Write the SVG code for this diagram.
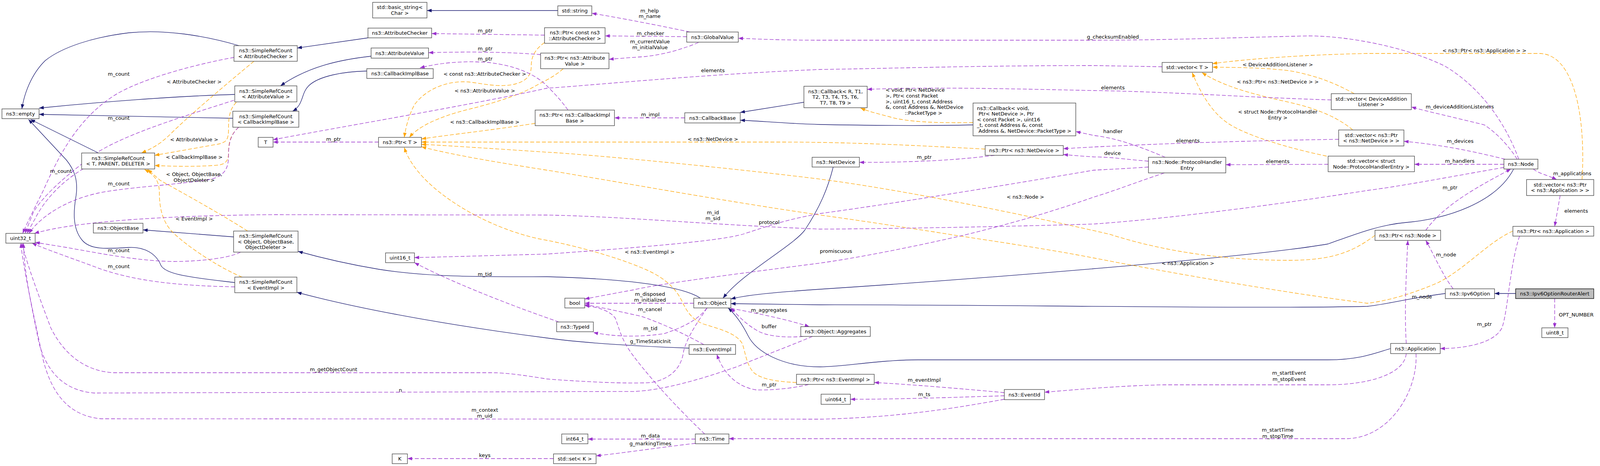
<svg xmlns="http://www.w3.org/2000/svg" width="5116" height="1194" viewBox="0 0 5116 1194">
<defs>
<style>
text{font-family:"DejaVu Sans","Liberation Sans",sans-serif;font-size:13px;fill:#000}
.c{text-anchor:middle}
.box{fill:#fff;stroke:#404040;stroke-width:1.3}
.main{fill:#bfbfbf;stroke:#000;stroke-width:1.3}
.inh{fill:none;stroke:#191970;stroke-width:1.3;marker-end:url(#an)}
.mem{fill:none;stroke:#9a32cd;stroke-width:1.3;stroke-dasharray:10,5;marker-end:url(#ap)}
.tpl{fill:none;stroke:#ffa500;stroke-width:1.3;stroke-dasharray:10,5;marker-end:url(#ao)}
</style>
<marker id="an" viewBox="0 0 12 9" refX="12" refY="4.5" markerWidth="12" markerHeight="9" markerUnits="userSpaceOnUse" orient="auto"><path d="M0,0L12,4.5L0,9z" fill="#191970" stroke="none"/></marker>
<marker id="ap" viewBox="0 0 12 9" refX="12" refY="4.5" markerWidth="12" markerHeight="9" markerUnits="userSpaceOnUse" orient="auto"><path d="M0,0L12,4.5L0,9z" fill="#9a32cd" stroke="none"/></marker>
<marker id="ao" viewBox="0 0 12 9" refX="12" refY="4.5" markerWidth="12" markerHeight="9" markerUnits="userSpaceOnUse" orient="auto"><path d="M0,0L12,4.5L0,9z" fill="#ffa500" stroke="none"/></marker>
</defs>
<rect width="5116" height="1194" fill="#fff"/>
<g id="edges">
<!-- inheritance -->
<path class="inh" d="M612,117 C520,90 420,75 330,84 C240,95 160,120 116,155 C80,190 62,240 56,279"/>
<path class="inh" d="M601,242 C450,246 250,262 100,277"/>
<path class="inh" d="M596,303 C430,300 250,296 100,293"/>
<path class="inh" d="M252,392 L78,306"/>
<path class="inh" d="M601,724 C500,712 425,705 412,680 C400,650 370,632 330,634 C270,638 230,640 210,615 C185,585 188,540 195,500 C200,460 190,435 170,410 L73,306"/>
<path class="inh" d="M598,607 L366,589"/>
<path class="inh" d="M942,97 L761,123"/>
<path class="inh" d="M950,144 C870,153 790,170 718,220"/>
<path class="inh" d="M939,182 C880,183 815,195 790,220 C770,240 778,268 749,285"/>
<path class="inh" d="M1428,27 L1093,27"/>
<path class="inh" d="M1793,764 C1750,735 1620,715 1400,709 C1250,709 1100,711 970,690 C880,675 820,660 763,644"/>
<path class="inh" d="M1764,892 C1600,886 1480,877 1400,866 C1200,840 950,800 760,749"/>
<path class="inh" d="M2133,428 C2120,480 2100,530 2060,590 C2030,630 1900,700 1851,764"/>
<path class="inh" d="M3875,433 C3830,520 3700,562 3600,570 C3530,576 3470,600 3400,625 C3200,660 2500,715 2100,741 C2000,748 1920,754 1871,766"/>
<path class="inh" d="M3700,752 C3600,765 3550,780 3500,785 C3200,792 2500,780 2100,781 L1871,778"/>
<path class="inh" d="M3560,893 C3520,905 3480,922 3400,922 L2350,922 C2250,922 2160,940 2100,940 C2000,940 1935,900 1915,860 C1900,830 1885,808 1864,789"/>
<path class="inh" d="M2058,262 L1895,288"/>
<path class="inh" d="M2491,320 C2400,322 2250,322 2100,319 C2000,316 1950,310 1895,308"/>
<path class="inh" d="M3880,752 L3826,752"/>
<!-- templates -->
<path class="tpl" d="M650,157 C580,215 480,300 440,340 C410,370 390,380 362,392"/>
<path class="tpl" d="M605,262 C588,280 585,300 585,330 C585,358 580,364 560,369 L396,398"/>
<path class="tpl" d="M611,326 C590,345 585,365 585,390 C585,412 578,420 560,423 C500,428 440,426 396,424"/>
<path class="tpl" d="M634,592 C560,545 460,490 410,462 L378,434"/>
<path class="tpl" d="M620,710 C570,690 490,640 445,598 C415,570 408,530 408,495 C408,465 398,450 370,434"/>
<path class="tpl" d="M1394,109 C1365,130 1360,150 1360,170 C1360,195 1345,208 1320,215 C1280,225 1240,215 1200,210 C1130,205 1080,240 1060,270 C1045,300 1038,330 1035,352"/>
<path class="tpl" d="M1442,176 C1420,195 1400,205 1380,215 C1330,245 1260,265 1200,280 C1120,300 1070,325 1048,352"/>
<path class="tpl" d="M1370,316 C1250,335 1150,345 1079,356"/>
<path class="tpl" d="M2522,382 C2300,370 2150,364 2000,364 L1079,364"/>
<path class="tpl" d="M3520,603 C3470,640 3420,667 3300,667 C3100,667 2950,635 2840,600 C2600,545 2300,485 2100,459 C1850,428 1500,395 1400,390 C1250,380 1130,372 1079,370"/>
<path class="tpl" d="M3873,592 C3810,620 3750,690 3680,725 C3620,750 3560,770 3500,777 C3250,745 2950,690 2800,661 C2650,632 2500,612 2390,594 C2280,577 2200,565 2100,551 C1850,515 1550,460 1400,436 C1260,414 1150,395 1079,376"/>
<path class="tpl" d="M2039,980 C1990,978 1950,972 1930,955 C1910,935 1908,900 1900,880 C1885,855 1850,845 1800,830 C1765,815 1755,790 1745,770 C1725,730 1690,705 1640,685 C1580,660 1480,630 1380,612 C1280,590 1180,540 1110,480 C1070,445 1045,410 1035,378"/>
<path class="tpl" d="M2491,314 C2400,316 2320,312 2280,300 C2250,292 2225,286 2203,277"/>
<path class="tpl" d="M3467,240 C3430,220 3380,195 3300,181 C3220,172 3150,173 3104,172"/>
<path class="tpl" d="M3463,333 C3430,305 3380,280 3300,262 C3200,240 3130,220 3077,186"/>
<path class="tpl" d="M3396,400 C3300,380 3200,350 3150,320 C3100,290 3070,230 3052,186"/>
<path class="tpl" d="M4050,460 C4060,300 4030,137 3940,137 L3500,137 C3350,140 3200,150 3104,163"/>
<!-- members -->
<path class="mem" d="M599,147 C500,165 370,200 300,240 C200,300 150,400 110,490 C85,540 70,570 58,598"/>
<path class="mem" d="M599,257 C480,295 330,340 250,390 C180,440 110,500 85,545 L64,598"/>
<path class="mem" d="M214,432 C150,470 110,520 90,560 L69,598"/>
<path class="mem" d="M611,326 C590,345 585,368 585,400 C585,435 572,452 536,460 C440,475 320,480 250,495 C160,515 100,560 74,598"/>
<path class="mem" d="M616,646 C590,660 520,670 440,670 C350,668 260,650 170,634 L90,621"/>
<path class="mem" d="M601,735 C450,732 350,720 260,690 C180,660 120,640 82,623"/>
<path class="mem" d="M1394,90 L1105,86"/>
<path class="mem" d="M1384,140 C1300,133 1200,132 1097,135"/>
<path class="mem" d="M1454,282 C1435,255 1415,235 1400,220 C1370,190 1320,168 1250,160 C1180,155 1120,162 1075,174"/>
<path class="mem" d="M969,364 L699,364"/>
<path class="mem" d="M2975,171 L2800,168 C2500,168 2300,175 2100,178 C1800,190 1500,220 1400,226 C1200,270 900,320 699,358"/>
<path class="mem" d="M1766,82 C1700,68 1600,48 1515,34"/>
<path class="mem" d="M1758,94 L1549,92"/>
<path class="mem" d="M1788,109 C1750,125 1700,140 1650,145 C1610,148 1580,150 1559,152"/>
<path class="mem" d="M3888,408 C3860,330 3800,230 3700,170 C3600,120 3450,92 3350,92 C3200,95 3000,103 2800,103 L2100,103 C2000,103 1940,100 1890,98"/>
<path class="mem" d="M1753,302 L1573,302"/>
<path class="mem" d="M3408,256 C3200,250 3000,235 2800,232 C2600,228 2400,222 2220,229"/>
<path class="mem" d="M3427,357 C3200,360 2900,370 2722,381"/>
<path class="mem" d="M3400,421 L3138,422"/>
<path class="mem" d="M2983,403 C2940,385 2870,355 2800,347 L2754,337"/>
<path class="mem" d="M2940,413 C2880,408 2840,402 2800,402 C2770,400 2745,398 2722,396"/>
<path class="mem" d="M2981,443 C2900,470 2850,490 2800,505 C2700,540 2600,570 2470,602 C2350,630 2200,660 2100,674 C1900,700 1700,725 1620,743 C1570,752 1530,760 1497,766"/>
<path class="mem" d="M2940,428 C2880,432 2840,434 2800,436 C2600,470 2300,520 2100,547 C2000,565 1950,585 1902,600 C1850,615 1700,630 1400,651 C1250,655 1150,658 1061,660"/>
<path class="mem" d="M3850,429 C3700,455 3600,475 3500,488 C3300,520 3000,560 2800,574 C2600,580 2300,586 2100,587 C1800,575 1600,555 1400,551 L700,550 C450,552 200,565 88,598"/>
<path class="mem" d="M3884,408 C3860,370 3830,340 3800,320 C3720,300 3650,285 3613,274"/>
<path class="mem" d="M3853,408 C3780,390 3700,372 3594,362"/>
<path class="mem" d="M3850,421 L3621,421"/>
<path class="mem" d="M3925,433 C3940,445 3965,450 3985,460"/>
<path class="mem" d="M1776,777 L1497,777"/>
<path class="mem" d="M1802,883 C1760,860 1700,830 1640,810 C1570,795 1530,785 1497,781"/>
<path class="mem" d="M1810,789 C1790,815 1760,835 1700,855 C1630,865 1570,862 1519,852"/>
<path class="mem" d="M1431,825 C1300,780 1150,720 1061,673"/>
<path class="mem" d="M1804,1112 C1760,1070 1680,990 1620,910 C1590,870 1585,840 1575,815 C1560,795 1530,787 1497,783"/>
<path class="mem" d="M1810,789 C1790,820 1760,860 1750,900 C1745,940 1720,970 1668,980 C1600,985 1450,975 1400,971 C1350,963 1300,955 1258,955 L290,955 C210,950 160,900 130,840 C100,760 70,680 56,623"/>
<path class="mem" d="M2080,862 C2000,895 1920,925 1891,938 C1800,970 1700,1000 1623,1003 L241,1007 C160,1000 120,950 100,880 C80,780 62,700 60,623"/>
<path class="mem" d="M2056,862 C2010,866 1960,862 1935,845 C1910,830 1895,815 1871,789"/>
<path class="mem" d="M1871,790 C1950,805 2020,820 2072,837"/>
<path class="mem" d="M2070,985 C2030,995 1980,1000 1936,999 C1880,990 1850,950 1835,908"/>
<path class="mem" d="M1780,1125 L1505,1125"/>
<path class="mem" d="M1780,1136 C1700,1145 1600,1160 1526,1168"/>
<path class="mem" d="M1417,1175 L1043,1175"/>
<path class="mem" d="M2571,1023 C2450,1045 2300,1070 2100,1074 L259,1073 C170,1065 130,1000 110,920 C85,800 62,700 53,623"/>
<path class="mem" d="M2571,1006 C2450,995 2330,985 2238,980"/>
<path class="mem" d="M2571,1014 C2450,1018 2300,1023 2177,1023"/>
<path class="mem" d="M3600,906 C3595,960 3500,986 3400,986 L2979,986 C2880,988 2780,996 2674,1005"/>
<path class="mem" d="M3625,906 C3630,1000 3560,1120 3450,1124 L1866,1124"/>
<path class="mem" d="M2546,398 C2450,410 2350,416 2200,416"/>
<path class="mem" d="M3650,590 C3700,520 3800,470 3868,433"/>
<path class="mem" d="M3720,740 C3690,700 3670,650 3650,616"/>
<path class="mem" d="M3600,880 C3595,800 3600,700 3604,616"/>
<path class="mem" d="M3890,605 C3865,680 3860,800 3845,840 C3825,880 3750,893 3687,893"/>
<path class="mem" d="M3994,501 L3980,580"/>
<path class="mem" d="M3980,765 L3980,840"/>
</g>
<g id="edge-labels">
<text class="c" x="304" y="193.5">m_count</text>
<text class="c" x="304" y="306.5">m_count</text>
<text class="c" x="156" y="442.5">m_count</text>
<text class="c" x="304" y="474.5">m_count</text>
<text class="c" x="304" y="645.5">m_count</text>
<text class="c" x="304" y="686.5">m_count</text>
<text class="c" x="497" y="213.5">&lt; AttributeChecker &gt;</text>
<text class="c" x="497" y="361.5">&lt; AttributeValue &gt;</text>
<text class="c" x="497" y="406.5">&lt; CallbackImplBase &gt;</text>
<text class="c" x="497" y="450.5">&lt; Object, ObjectBase,</text>
<text class="c" x="497" y="465.5">ObjectDeleter &gt;</text>
<text class="c" x="497" y="564.5">&lt; EventImpl &gt;</text>
<text class="c" x="1242" y="82.5">m_ptr</text>
<text class="c" x="1242" y="128.5">m_ptr</text>
<text class="c" x="1242" y="154.5">m_ptr</text>
<text class="c" x="1241" y="193.5">&lt; const ns3::AttributeChecker &gt;</text>
<text class="c" x="1241" y="236.5">&lt; ns3::AttributeValue &gt;</text>
<text class="c" x="1241" y="316.5">&lt; ns3::CallbackImplBase &gt;</text>
<text class="c" x="854" y="360.5">m_ptr</text>
<text class="c" x="1241" y="706.5">m_tid</text>
<text class="c" x="854" y="950.5">m_getObjectCount</text>
<text class="c" x="1025" y="1003.5">n</text>
<text class="c" x="1241" y="1054.5">m_context</text>
<text class="c" x="1241" y="1069.5">m_uid</text>
<text class="c" x="1241" y="1170.5">keys</text>
<text class="c" x="1663" y="31.5">m_help</text>
<text class="c" x="1663" y="45.5">m_name</text>
<text class="c" x="1665" y="89.5">m_checker</text>
<text class="c" x="1664" y="110.5">m_currentValue</text>
<text class="c" x="1664" y="125.5">m_initialValue</text>
<text class="c" x="1825" y="184.5">elements</text>
<text class="c" x="1665" y="297.5">m_impl</text>
<text class="c" x="1825" y="360.5">&lt; ns3::NetDevice &gt;</text>
<text class="c" x="1825" y="548.5">m_id</text>
<text class="c" x="1825" y="563.5">m_sid</text>
<text class="c" x="1969" y="573.5">protocol</text>
<text class="c" x="1663" y="649.5">&lt; ns3::EventImpl &gt;</text>
<text class="c" x="1664" y="757.5">m_disposed</text>
<text class="c" x="1664" y="772.5">m_initialized</text>
<text class="c" x="1664" y="796.5">m_cancel</text>
<text class="c" x="1665" y="845.5">m_tid</text>
<text class="c" x="1665" y="878.5">g_TimeStaticInit</text>
<text class="c" x="1969" y="798.5">m_aggregates</text>
<text class="c" x="1969" y="840.5">buffer</text>
<text class="c" x="1969" y="989.5">m_ptr</text>
<text class="c" x="1665" y="1120.5">m_data</text>
<text class="c" x="1665" y="1140.5">g_markingTimes</text>
<text x="2267" y="234.5">&lt; void, Ptr&lt; NetDevice</text>
<text x="2267" y="249.5">&gt;, Ptr&lt; const Packet</text>
<text x="2267" y="264.5">&gt;, uint16_t, const Address</text>
<text x="2267" y="278.5">&amp;, const Address &amp;, NetDevice</text>
<text class="c" x="2364" y="293.5">::PacketType &gt;</text>
<text class="c" x="2366" y="406.5">m_ptr</text>
<text class="c" x="2625" y="508.5">&lt; ns3::Node &gt;</text>
<text class="c" x="2140" y="647.5">promiscuous</text>
<text class="c" x="2366" y="977.5">m_eventImpl</text>
<text class="c" x="2366" y="1014.5">m_ts</text>
<text class="c" x="2849" y="98.5">g_checksumEnabled</text>
<text class="c" x="3271" y="169.5">&lt; DeviceAdditionListener &gt;</text>
<text class="c" x="3271" y="213.5">&lt; ns3::Ptr&lt; ns3::NetDevice &gt; &gt;</text>
<text class="c" x="2849" y="228.5">elements</text>
<text class="c" x="3271" y="290.5">&lt; struct Node::ProtocolHandler</text>
<text class="c" x="3271" y="305.5">Entry &gt;</text>
<text class="c" x="2849" y="340.5">handler</text>
<text class="c" x="3041" y="364.5">elements</text>
<text class="c" x="2848" y="396.5">device</text>
<text class="c" x="3271" y="417.5">elements</text>
<text class="c" x="3041" y="678.5">&lt; ns3::Application &gt;</text>
<text class="c" x="3271" y="1105.5">m_startTime</text>
<text class="c" x="3271" y="1121.5">m_stopTime</text>
<text class="c" x="3737" y="277.5">m_deviceAdditionListeners</text>
<text class="c" x="3738" y="365.5">m_devices</text>
<text class="c" x="3737" y="416.5">m_handlers</text>
<text class="c" x="3712" y="484.5">m_ptr</text>
<text class="c" x="3800" y="133.5">&lt; ns3::Ptr&lt; ns3::Application &gt; &gt;</text>
<text class="c" x="3300" y="959.5">m_startEvent</text>
<text class="c" x="3300" y="975.5">m_stopEvent</text>
<text class="c" x="4025" y="448.5">m_applications</text>
<text class="c" x="4035" y="544.5">elements</text>
<text class="c" x="3702" y="656.5">m_node</text>
<text class="c" x="3640" y="764.5">m_node</text>
<text class="c" x="3800" y="834.5">m_ptr</text>
<text class="c" x="4035" y="810.5">OPT_NUMBER</text>
</g>
<g id="n_empty"><rect class="box" x="5" y="279" width="95" height="25"/><text class="c" x="52.5" y="296">ns3::empty</text></g>
<g id="n_uint32"><rect class="box" x="15" y="598" width="75" height="25"/><text class="c" x="52.5" y="615">uint32_t</text></g>
<g id="n_srcTPD"><rect class="box" x="209" y="392" width="187" height="41"/><text class="c" x="302.5" y="409.75">ns3::SimpleRefCount</text><text class="c" x="302.5" y="424.25">&lt; T, PARENT, DELETER &gt;</text></g>
<g id="n_objbase"><rect class="box" x="239" y="572" width="127" height="25"/><text class="c" x="302.5" y="589">ns3::ObjectBase</text></g>
<g id="n_srcAC"><rect class="box" x="599" y="117" width="162" height="40"/><text class="c" x="680" y="134.25">ns3::SimpleRefCount</text><text class="c" x="680" y="148.75">&lt; AttributeChecker &gt;</text></g>
<g id="n_srcAV"><rect class="box" x="601" y="220" width="159" height="41"/><text class="c" x="680.5" y="237.75">ns3::SimpleRefCount</text><text class="c" x="680.5" y="252.25">&lt; AttributeValue &gt;</text></g>
<g id="n_srcCIB"><rect class="box" x="596" y="285" width="169" height="41"/><text class="c" x="680.5" y="302.75">ns3::SimpleRefCount</text><text class="c" x="680.5" y="317.25">&lt; CallbackImplBase &gt;</text></g>
<g id="n_T"><rect class="box" x="661" y="352" width="38" height="25"/><text class="c" x="680" y="369">T</text></g>
<g id="n_srcObj"><rect class="box" x="598" y="592" width="165" height="54"/><text class="c" x="680.5" y="609">ns3::SimpleRefCount</text><text class="c" x="680.5" y="623.5">&lt; Object, ObjectBase,</text><text class="c" x="680.5" y="638">ObjectDeleter &gt;</text></g>
<g id="n_srcEI"><rect class="box" x="601" y="710" width="159" height="40"/><text class="c" x="680.5" y="727.25">ns3::SimpleRefCount</text><text class="c" x="680.5" y="741.75">&lt; EventImpl &gt;</text></g>
<g id="n_bstr"><rect class="box" x="954" y="6" width="139" height="40"/><text class="c" x="1023.5" y="23.25">std::basic_string&lt;</text><text class="c" x="1023.5" y="37.75">Char &gt;</text></g>
<g id="n_ac"><rect class="box" x="942" y="72" width="163" height="25"/><text class="c" x="1023.5" y="89">ns3::AttributeChecker</text></g>
<g id="n_av"><rect class="box" x="950" y="123" width="147" height="26"/><text class="c" x="1023.5" y="140.5">ns3::AttributeValue</text></g>
<g id="n_cib"><rect class="box" x="939" y="176" width="170" height="25"/><text class="c" x="1024" y="193">ns3::CallbackImplBase</text></g>
<g id="n_ptrT"><rect class="box" x="969" y="352" width="110" height="25"/><text class="c" x="1024" y="369">ns3::Ptr&lt; T &gt;</text></g>
<g id="n_u16"><rect class="box" x="987" y="648" width="74" height="25"/><text class="c" x="1024" y="665">uint16_t</text></g>
<g id="n_K"><rect class="box" x="1004" y="1163" width="39" height="25"/><text class="c" x="1023.5" y="1180">K</text></g>
<g id="n_ptrCAC"><rect class="box" x="1394" y="71" width="155" height="40"/><text class="c" x="1471.5" y="88.25">ns3::Ptr&lt; const ns3</text><text class="c" x="1471.5" y="102.75">::AttributeChecker &gt;</text></g>
<g id="n_ptrAV"><rect class="box" x="1384" y="136" width="175" height="40"/><text class="c" x="1471.5" y="153.25">ns3::Ptr&lt; ns3::Attribute</text><text class="c" x="1471.5" y="167.75">Value &gt;</text></g>
<g id="n_ptrCIB"><rect class="box" x="1370" y="282" width="203" height="40"/><text class="c" x="1471.5" y="299.25">ns3::Ptr&lt; ns3::CallbackImpl</text><text class="c" x="1471.5" y="313.75">Base &gt;</text></g>
<g id="n_str"><rect class="box" x="1428" y="15" width="87" height="25"/><text class="c" x="1471.5" y="32">std::string</text></g>
<g id="n_bool"><rect class="box" x="1446" y="764" width="51" height="25"/><text class="c" x="1471.5" y="781">bool</text></g>
<g id="n_typeid"><rect class="box" x="1425" y="825" width="94" height="25"/><text class="c" x="1472" y="842">ns3::TypeId</text></g>
<g id="n_i64"><rect class="box" x="1438" y="1112" width="67" height="25"/><text class="c" x="1471.5" y="1129">int64_t</text></g>
<g id="n_set"><rect class="box" x="1417" y="1163" width="109" height="25"/><text class="c" x="1471.5" y="1180">std::set&lt; K &gt;</text></g>
<g id="n_gv"><rect class="box" x="1758" y="82" width="132" height="26"/><text class="c" x="1824" y="99.5">ns3::GlobalValue</text></g>
<g id="n_cb"><rect class="box" x="1753" y="289" width="142" height="26"/><text class="c" x="1824" y="306.5">ns3::CallbackBase</text></g>
<g id="n_obj"><rect class="box" x="1776" y="764" width="95" height="25"/><text class="c" x="1823.5" y="781">ns3::Object</text></g>
<g id="n_ei"><rect class="box" x="1764" y="883" width="119" height="25"/><text class="c" x="1823.5" y="900">ns3::EventImpl</text></g>
<g id="n_time"><rect class="box" x="1780" y="1112" width="86" height="25"/><text class="c" x="1823" y="1129">ns3::Time</text></g>
<g id="n_cbR"><rect class="box" x="2058" y="221" width="162" height="55"/><text class="c" x="2139" y="238.5">ns3::Callback&lt; R, T1,</text><text class="c" x="2139" y="253">T2, T3, T4, T5, T6,</text><text class="c" x="2139" y="267.5">T7, T8, T9 &gt;</text></g>
<g id="n_nd"><rect class="box" x="2079" y="403" width="121" height="25"/><text class="c" x="2139.5" y="420">ns3::NetDevice</text></g>
<g id="n_agg"><rect class="box" x="2050" y="837" width="178" height="25"/><text class="c" x="2139" y="854">ns3::Object::Aggregates</text></g>
<g id="n_ptrEI"><rect class="box" x="2039" y="959" width="199" height="26"/><text class="c" x="2138.5" y="976.5">ns3::Ptr&lt; ns3::EventImpl &gt;</text></g>
<g id="n_u64"><rect class="box" x="2102" y="1010" width="75" height="26"/><text class="c" x="2139.5" y="1027.5">uint64_t</text></g>
<g id="n_cbV"><rect class="box" x="2491" y="264" width="263" height="84"/><text x="2501" y="281.5">ns3::Callback&lt; void,</text><text x="2505" y="296">Ptr&lt; NetDevice &gt;, Ptr</text><text x="2501" y="310.5">&lt; const Packet &gt;, uint16</text><text x="2501" y="325">_t, const Address &amp;, const</text><text x="2505" y="339.5">Address &amp;, NetDevice::PacketType &gt;</text></g>
<g id="n_ptrND"><rect class="box" x="2522" y="373" width="200" height="25"/><text class="c" x="2622" y="390">ns3::Ptr&lt; ns3::NetDevice &gt;</text></g>
<g id="n_eid"><rect class="box" x="2571" y="998" width="103" height="26"/><text class="c" x="2622.5" y="1015.5">ns3::EventId</text></g>
<g id="n_vecT"><rect class="box" x="2975" y="160" width="129" height="25"/><text class="c" x="3039.5" y="177">std::vector&lt; T &gt;</text></g>
<g id="n_phe"><rect class="box" x="2940" y="403" width="198" height="40"/><text class="c" x="3039" y="420.25">ns3::Node::ProtocolHandler</text><text class="c" x="3039" y="434.75">Entry</text></g>
<g id="n_vecDAL"><rect class="box" x="3408" y="240" width="205" height="41"/><text class="c" x="3510.5" y="257.75">std::vector&lt; DeviceAddition</text><text class="c" x="3510.5" y="272.25">Listener &gt;</text></g>
<g id="n_vecPND"><rect class="box" x="3427" y="333" width="167" height="41"/><text class="c" x="3510.5" y="350.75">std::vector&lt; ns3::Ptr</text><text class="c" x="3510.5" y="365.25">&lt; ns3::NetDevice &gt; &gt;</text></g>
<g id="n_vecPHE"><rect class="box" x="3400" y="400" width="221" height="40"/><text class="c" x="3510.5" y="417.25">std::vector&lt; struct</text><text class="c" x="3510.5" y="431.75">Node::ProtocolHandlerEntry &gt;</text></g>
<g id="n_node"><rect class="box" x="3850" y="408" width="87" height="25"/><text class="c" x="3893.5" y="425">ns3::Node</text></g>
<g id="n_ptrNode"><rect class="box" x="3520" y="590" width="168" height="26"/><text class="c" x="3604" y="607.5">ns3::Ptr&lt; ns3::Node &gt;</text></g>
<g id="n_app"><rect class="box" x="3560" y="880" width="127" height="26"/><text class="c" x="3623.5" y="897.5">ns3::Application</text></g>
<g id="n_ptrApp"><rect class="box" x="3873" y="580" width="207" height="25"/><text class="c" x="3976.5" y="597">ns3::Ptr&lt; ns3::Application &gt;</text></g>
<g id="n_vecApp"><rect class="box" x="3908" y="460" width="172" height="41"/><text class="c" x="3994" y="477.75">std::vector&lt; ns3::Ptr</text><text class="c" x="3994" y="492.25">&lt; ns3::Application &gt; &gt;</text></g>
<g id="n_ipv6opt"><rect class="box" x="3700" y="740" width="126" height="25"/><text class="c" x="3763" y="757">ns3::Ipv6Option</text></g>
<g id="n_u8"><rect class="box" x="3947" y="840" width="67" height="25"/><text class="c" x="3980.5" y="857">uint8_t</text></g>
<g id="n_ra"><rect class="main" x="3880" y="740" width="200" height="25"/><text class="c" x="3980" y="757">ns3::Ipv6OptionRouterAlert</text></g>
</svg>
